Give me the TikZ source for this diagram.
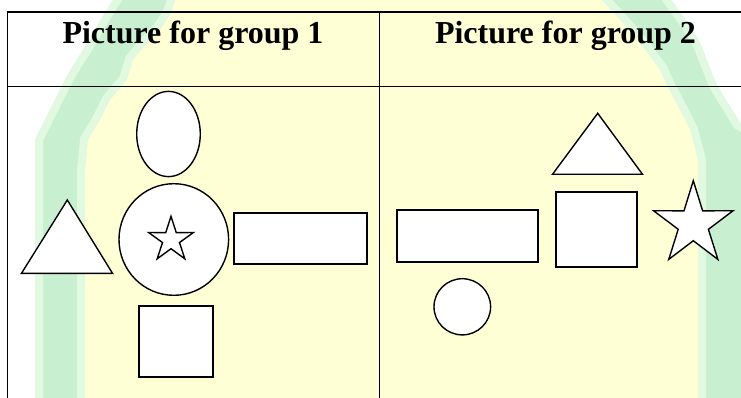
\documentclass[tikz,border=0pt]{standalone}
\usepackage{fontspec}
\setmainfont{Liberation Serif}

\definecolor{wmgreen}{RGB}{200,240,208}
\definecolor{wmlight}{RGB}{224,249,224}
\definecolor{wmyellow}{RGB}{255,255,214}

\begin{document}
\begin{tikzpicture}[x=1pt,y=-1pt,
  tableline/.style={line width=1.4pt,black},
  shapeline/.style={line width=1.4pt,black,fill=white,line join=miter},
  boxline/.style={shapeline,line width=2pt},
  heading/.style={font=\bfseries\fontsize{32}{36}\selectfont,anchor=base,inner sep=0pt},
  starpic/.pic={
    \draw[shapeline] (-90:1)
      \foreach \k in {1,...,9}{ -- ({-90+36*\k}:{ifthenelse(isodd(\k),0.38,1)}) }
      -- cycle;
  }]
\useasboundingbox (0,0) rectangle (741,398);

% faint arch-shaped watermark behind the table
\begin{scope}
  \clip (0,0) rectangle (741,398);
  \path[fill=wmgreen,draw=wmlight,line width=8pt]
    (39,420) -- (39,140) -- (49,120) -- (59,100) -- (69,80) -- (81,60) -- (92,43)
    -- (102,25) -- (111,10) -- (121,-5) -- (663,-5) -- (681,20) -- (696,43)
    -- (713,86) -- (737,125) -- (760,140) -- (760,420) -- cycle;
  \path[draw=wmlight,line width=16pt]
    (85,420) -- (85,170) -- (88,140) -- (100,120) -- (110,100) -- (127,80)
    -- (133,60) -- (147,43) -- (160,30) -- (170,15) -- (177,-5) -- (597,-5)
    -- (620,20) -- (640,43) -- (660,70) -- (667,86) -- (680,110) -- (690,130)
    -- (698,160) -- (698,420) -- cycle;
  \fill[wmyellow]
    (85,420) -- (85,170) -- (88,140) -- (100,120) -- (110,100) -- (127,80)
    -- (133,60) -- (147,43) -- (160,30) -- (170,15) -- (177,-5) -- (597,-5)
    -- (620,20) -- (640,43) -- (660,70) -- (667,86) -- (680,110) -- (690,130)
    -- (698,160) -- (698,420) -- cycle;
\end{scope}

% table grid
\coordinate (tl) at (7.5,12);
\coordinate (tr) at (750,12);
\coordinate (bl) at (7.5,402);
\coordinate (hl) at (7.5,86.7);
\coordinate (hr) at (750,86.7);
\coordinate (mt) at (379.5,12);
\coordinate (mb) at (379.5,402);
\draw[tableline] (bl) -- (tl) -- (tr);
\draw[tableline] (hl) -- (hr);
\draw[tableline] (mt) -- (mb);

% column headings
\node[heading] (h1) at (193,43.3) {Picture for group 1};
\node[heading] (h2) at (565.5,43.3) {Picture for group 2};

% group 1 shapes
\draw[shapeline] (168.5,134) ellipse [x radius=31.8pt, y radius=42.6pt];
\draw[shapeline] (173.8,239.5) ellipse [x radius=54.8pt, y radius=55.8pt];
\pic[scale=23.5] at (171,239.8) {starpic};
\draw[shapeline] (67.3,200) -- (21.5,273.3) -- (112.5,273.3) -- cycle;
\draw[boxline] (234.3,212.7) rectangle (366.7,264.3);
\draw[boxline] (138.7,306.3) rectangle (212.7,376.7);

% group 2 shapes
\draw[shapeline] (597.7,113.3) -- (552.5,174.3) -- (642.5,174.3) -- cycle;
\draw[boxline] (397.3,210) rectangle (538.3,262.3);
\draw[boxline] (556.3,192) rectangle (636.7,267.3);
\draw[shapeline] (462.3,306.8) ellipse [x radius=28.3pt, y radius=28.1pt];
\pic[scale=43.5,xscale=0.96] at (693.3,224.2) {starpic};
\end{tikzpicture}
\end{document}
